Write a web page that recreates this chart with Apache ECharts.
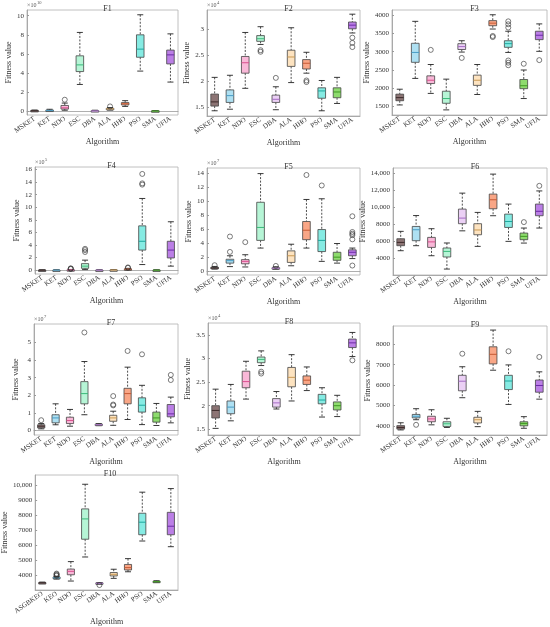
<!DOCTYPE html>
<html>
<head>
<meta charset="utf-8">
<script src="https://cdn.jsdelivr.net/npm/echarts@6/dist/echarts.min.js"></script>
<style>
html,body{margin:0;padding:0;background:#fff}
#main{width:550px;height:627px}
</style>
</head>
<body>
<div id="main"></div>
<script>
// categories
var algos = ['MSKET','KET','NDO','ESC','DBA','ALA','HHO','PSO','SMA','UFIA'];
var algosF10 = ['ASGBKEO','KEO','NDO','ESC','DBA','ALA','HHO','PSO','SMA','UFIA'];

// box data: [lower whisker, Q1, median, Q3, upper whisker] per algorithm
// outliers: [algorithm index, value]
var f1Box = [[0,0.02,0.04,0.08,0.12],[0.02,0.05,0.08,0.12,0.2],[0.1,0.22,0.35,0.6,0.85],[2.8,4.15,4.85,5.8,8.25],[0,0.01,0.03,0.06,0.1],
             [0.12,0.2,0.25,0.3,0.38],[0.5,0.65,0.78,0.9,1.1],[4.2,5.65,6.5,8.0,10.1],[0,0.01,0.02,0.04,0.06],[3.05,4.95,5.9,6.4,8.1]];
var f1Out = [[2,1.2],[5,0.5]];
var f1Ticks = [0,2,4,6,8,10];

var f2Box = [[1.44,1.53,1.61,1.76,2.08],[1.47,1.6,1.73,1.84,2.12],[1.87,2.16,2.36,2.48,2.94],[2.71,2.77,2.82,2.88,3.05],[1.46,1.6,1.66,1.74,1.9],
             [1.98,2.29,2.47,2.6,3.03],[2.16,2.24,2.35,2.42,2.56],[1.44,1.68,1.82,1.88,2.02],[1.58,1.69,1.8,1.88,2.08],[2.93,3.01,3.08,3.14,3.29]];
var f2Out = [[3,2.57],[3,2.6],[4,2.07],[6,1.99],[6,2.02],[9,2.66],[9,2.74],[9,2.84]];
var f2Ticks = [1.5,2,2.5,3];

var f3Box = [[1545,1660,1745,1840,1975],[2270,2710,2980,3230,3830],[1860,2130,2220,2340,2650],[1410,1590,1720,1920,2250],[2990,3060,3140,3220,3300],
             [1830,2080,2220,2360,2650],[3620,3710,3780,3850,4010],[2980,3120,3220,3300,3560],[1720,1990,2070,2240,2500],[3010,3330,3450,3560,3760]];
var f3Out = [[2,3050],[4,2830],[6,3400],[6,3430],[7,3660],[7,3750],[7,3830],[7,2630],[7,2700],[7,2760],[8,2670],[9,2770]];
var f3Ticks = [1500,2000,2500,3000,3500,4000];

var f4Box = [[0,0.01,0.02,0.03,0.05],[0,0.01,0.02,0.03,0.05],[0,0.02,0.05,0.08,0.12],[0.1,0.3,0.65,1.05,1.6],[0,0.01,0.02,0.03,0.05],
             [0,0.02,0.04,0.06,0.1],[0.05,0.12,0.18,0.22,0.3],[0.9,3.2,4.6,7.05,11.4],[0,0.01,0.02,0.03,0.05],[0.65,1.95,3.2,4.6,7.7]];
var f4Out = [[2,0.2],[2,0.25],[2,0.3],[3,2.9],[3,3.2],[3,3.4],[6,0.38],[6,0.45],[7,13.6],[7,13.8],[7,15.3]];
var f4Ticks = [0,2,4,6,8,10,12,14,16];

var f5Box = [[0.25,0.32,0.4,0.5,0.62],[0.6,1.1,1.45,1.65,2.15],[0.55,1.0,1.35,1.6,2.3],[3.25,4.35,6.2,9.8,13.9],[0.22,0.3,0.38,0.45,0.58],
             [0.72,1.2,2.15,2.85,3.8],[3.25,4.45,5.8,7.05,10.2],[1.35,2.75,4.35,5.9,10.3],[1.1,1.5,1.95,2.65,3.9],[1.75,2.15,2.65,3.0,3.25]];
var f5Out = [[0,0.8],[1,2.7],[1,4.9],[2,4.1],[4,0.7],[6,13.7],[7,12.2],[9,0.75],[9,4.5],[9,5.1],[9,5.3],[9,5.55],[9,7.8]];
var f5Ticks = [0,2,4,6,8,10,12,14];

var f6Box = [[4860,5450,5840,6270,7140],[5450,6040,7330,7720,9000],[4270,5250,5900,6430,7450],[2700,4120,4780,5180,5770],[7200,8040,8700,9760,11640],
             [5370,6740,7300,8040,9370],[8980,9800,10860,11530,13880],[5960,7600,8300,9170,10350],[5760,6160,6550,6940,7530],[7530,8980,9500,10350,11900]];
var f6Out = [[8,8230],[9,12500]];
var f6Ticks = [4000,6000,8000,10000,12000,14000];

var f7Box = [[0.1,0.15,0.25,0.33,0.4],[0.33,0.44,0.72,0.9,1.52],[0.25,0.4,0.57,0.76,1.2],[0.9,1.52,2.1,2.78,3.92],[0.28,0.3,0.33,0.37,0.4],
             [0.3,0.53,0.72,0.87,1.1],[0.63,1.52,2.1,2.4,3.6],[0.34,1.05,1.44,1.86,2.57],[0.29,0.48,0.72,1.05,1.54],[0.44,0.78,0.95,1.48,1.9]];
var f7Out = [[0,0.59],[3,5.57],[5,1.43],[5,1.48],[5,1.96],[6,4.52],[7,4.33],[9,2.87],[9,3.16]];
var f7Ticks = [0,1,2,3,4,5];

var f8Box = [[1.52,1.74,1.9,2.0,2.35],[1.68,1.83,1.97,2.1,2.45],[2.14,2.38,2.51,2.73,2.94],[2.85,2.91,2.98,3.03,3.16],[1.93,1.97,2.06,2.15,2.3],
             [2.1,2.4,2.6,2.81,3.08],[2.32,2.45,2.54,2.63,2.82],[1.76,2.04,2.12,2.24,2.38],[1.77,1.91,2.0,2.08,2.22],[3.04,3.23,3.33,3.41,3.55]];
var f8Out = [[3,2.68],[3,2.72],[9,2.96]];
var f8Ticks = [1.5,2,2.5,3,3.5];

var f9Box = [[3800,3840,3920,4010,4150],[4300,4390,4470,4560,4840],[4050,4200,4340,4470,4790],[3920,3970,4100,4200,4370],[5380,5720,6190,6480,6900],
             [3960,4140,4300,4420,4710],[6730,7040,7510,7880,8700],[5050,5780,6200,6480,6990],[3880,4000,4110,4200,4450],[5310,5650,5980,6250,6650]];
var f9Out = [[1,4050],[4,7540],[7,7660],[9,7380]];
var f9Ticks = [4000,5000,6000,7000,8000];

var f10Box = [[3430,3460,3480,3500,3530],[3730,3770,3820,3860,3900],[3600,4020,4250,4400,4900],[5210,6400,7760,8430,10080],[3400,3420,3450,3480,3500],
              [3780,3940,4050,4170,4390],[4220,4340,4500,4710,5100],[6280,6700,7540,8140,9550],[3500,3530,3560,3590,3620],[5900,6700,7270,8200,9790]];
var f10Out = [[1,3950],[1,4000],[1,4050],[1,4100],[4,3330]];
var f10Ticks = [4000,5000,6000,7000,8000,9000,10000];

// colours
var boxColors = ['#8c7474','#aee0f2','#f9b8d8','#b6f5d6','#ebd0f5','#fde3c0','#f9a686','#86ebe3','#8edb6e','#bb7fe6'];
var medColors = ['#3d2a2a','#4a9cc4','#d8508e','#3bb97a','#a56cc4','#c99a55','#c65a34','#1fa89e','#3f9a22','#6e2aa8'];

var FONT = 'Liberation Serif';
var TXT = '#333';

function fmt(v){
	if (Math.abs(v) >= 10000) return String(v).replace(/\B(?=(\d{3})+(?!\d))/g, ',');
	return String(v);
}

function renderBox(params, api){
	var i = api.value(0);
	var lo = api.coord([i, api.value(1)]);
	var q1 = api.coord([i, api.value(2)]);
	var md = api.coord([i, api.value(3)]);
	var q3 = api.coord([i, api.value(4)]);
	var hi = api.coord([i, api.value(5)]);
	var w = api.size([1, 0])[0] * 0.5;
	var x = lo[0];
	var ci = params.dataIndex;
	var dash = {stroke:'#222', lineWidth:0.8, lineDash:[2,1.5], fill:null};
	var cap = {stroke:'#222', lineWidth:0.9, fill:null};
	return {type:'group', children:[
		{type:'line', shape:{x1:x,y1:hi[1],x2:x,y2:q3[1]}, style:dash},
		{type:'line', shape:{x1:x,y1:q1[1],x2:x,y2:lo[1]}, style:dash},
		{type:'line', shape:{x1:x-3,y1:hi[1],x2:x+3,y2:hi[1]}, style:cap},
		{type:'line', shape:{x1:x-3,y1:lo[1],x2:x+3,y2:lo[1]}, style:cap},
		{type:'rect', shape:{x:x-w/2,y:q3[1],width:w,height:Math.max(q1[1]-q3[1],1.5)},
			style:{fill:boxColors[ci], stroke:'#444', lineWidth:0.8}},
		{type:'line', shape:{x1:x-w/2,y1:md[1],x2:x+w/2,y2:md[1]}, style:{stroke:medColors[ci], lineWidth:1}}
	]};
}

// panel layout
var panels = [
	{name:'F1', box:f1Box, out:f1Out, ticks:f1Ticks, min:-0.4, max:10.6, exp:'10', cats:algos, g:{left:27,top:10,width:151,height:105}, gap:12},
	{name:'F2', box:f2Box, out:f2Out, ticks:f2Ticks, min:1.34, max:3.37, exp:'4', cats:algos, g:{left:207,top:10,width:153,height:106}, gap:14},
	{name:'F3', box:f3Box, out:f3Out, ticks:f3Ticks, min:1270, max:4140, exp:null, cats:algos, g:{left:392,top:10,width:155,height:105}, gap:20},
	{name:'F4', box:f4Box, out:f4Out, ticks:f4Ticks, min:-0.6, max:16.4, exp:'5', cats:algos, g:{left:35,top:167,width:143,height:107}, gap:13},
	{name:'F5', box:f5Box, out:f5Out, ticks:f5Ticks, min:-0.6, max:14.7, exp:'7', cats:algos, g:{left:207,top:168,width:153,height:107}, gap:14},
	{name:'F6', box:f6Box, out:f6Out, ticks:f6Ticks, min:2000, max:14600, exp:null, cats:algos, g:{left:393,top:168,width:154,height:107}, gap:25},
	{name:'F7', box:f7Box, out:f7Out, ticks:f7Ticks, min:-0.25, max:6.05, exp:'7', cats:algos, g:{left:34,top:324,width:144,height:111}, gap:14},
	{name:'F8', box:f8Box, out:f8Out, ticks:f8Ticks, min:1.38, max:3.75, exp:'4', cats:algos, g:{left:208,top:323,width:152,height:112}, gap:15},
	{name:'F9', box:f9Box, out:f9Out, ticks:f9Ticks, min:3550, max:8900, exp:null, cats:algos, g:{left:393,top:326,width:154,height:109}, gap:20},
	{name:'F10', box:f10Box, out:f10Out, ticks:f10Ticks, min:3000, max:10700, exp:null, cats:algosF10, g:{left:32,top:475,width:146,height:115}, gap:25}
];

var option = {
	animation:false,
	backgroundColor:'#fff',
	textStyle:{fontFamily:FONT},
	title:[], grid:[], xAxis:[], yAxis:[], series:[], graphic:[]
};

panels.forEach(function(p, k){
	option.grid.push({left:p.g.left, top:p.g.top, width:p.g.width, height:p.g.height,
		show:true, borderColor:'#b0b0b0', borderWidth:0.8, backgroundColor:'transparent'});
	option.title.push({text:p.name, left:p.g.left + p.g.width/2, top:p.g.top - 10, textAlign:'center',
		textStyle:{fontFamily:FONT, fontSize:8, fontWeight:'normal', color:TXT}});
	option.xAxis.push({type:'category', gridIndex:k, data:p.cats, boundaryGap:true,
		name:'Algorithm', nameLocation:'middle', nameGap:23,
		nameTextStyle:{fontFamily:FONT, fontSize:8, color:TXT},
		axisLine:{lineStyle:{color:'#9a9a9a', width:0.8}},
		axisTick:{inside:true, alignWithLabel:true, length:2, lineStyle:{color:'#9a9a9a'}},
		axisLabel:{interval:0, rotate:35, fontSize:7, fontFamily:FONT, color:TXT, margin:3},
		splitLine:{show:false}});
	option.yAxis.push({type:'value', gridIndex:k, min:p.min, max:p.max,
		name:'Fitness value', nameLocation:'middle', nameGap:p.gap,
		nameTextStyle:{fontFamily:FONT, fontSize:8, color:TXT},
		axisLine:{show:true, lineStyle:{color:'#9a9a9a', width:0.8}},
		axisTick:{show:true, inside:true, length:2, customValues:p.ticks, lineStyle:{color:'#9a9a9a'}},
		axisLabel:{customValues:p.ticks, fontSize:7, fontFamily:FONT, color:TXT, margin:3, formatter:fmt},
		splitLine:{show:false}});
	var boxData = p.box.map(function(b, i){ return [i, b[0], b[1], b[2], b[3], b[4]]; });
	option.series.push({type:'custom', xAxisIndex:k, yAxisIndex:k, renderItem:renderBox,
		encode:{x:0, y:[1,2,3,4,5]}, data:boxData, silent:true, z:2});
	option.series.push({type:'scatter', xAxisIndex:k, yAxisIndex:k, data:p.out, symbol:'circle', symbolSize:5,
		itemStyle:{color:'rgba(0,0,0,0)', borderColor:'#333', borderWidth:0.8}, silent:true, z:3});
	if (p.exp){
		option.graphic.push({type:'text', left:p.g.left, top:p.g.top - 8,
			style:{text:'\u00d710', fontFamily:FONT, fontSize:6, fill:'#555'}});
		option.graphic.push({type:'text', left:p.g.left + 10, top:p.g.top - 10,
			style:{text:p.exp, fontFamily:FONT, fontSize:4.5, fill:'#555'}});
	}
});

var chart = echarts.init(document.getElementById('main'), null, {renderer:'canvas'});
chart.setOption(option);
</script>
</body>
</html>
